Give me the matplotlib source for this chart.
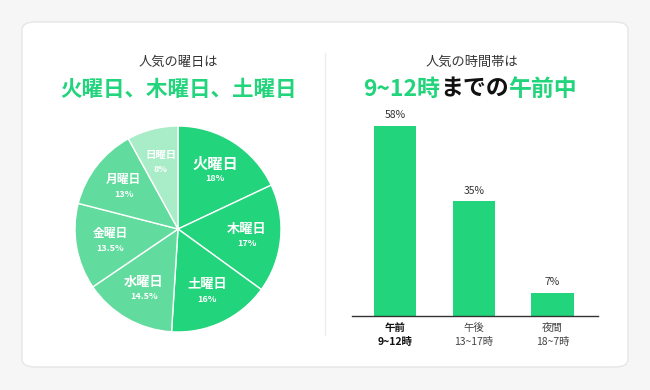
import matplotlib
matplotlib.use("Agg")
import matplotlib.pyplot as plt
from matplotlib.patches import FancyBboxPatch
import numpy as np

plt.rcParams['font.family'] = ['Noto Sans CJK JP', 'DejaVu Sans']

# data
days = ['火曜日', '木曜日', '土曜日', '水曜日', '金曜日', '月曜日', '日曜日']
day_share = [18, 17, 16, 14.5, 13.5, 13, 8]
day_pct_labels = ['18%', '17%', '16%', '14.5%', '13.5%', '13%', '8%']
times = ['午前\n9~12時', '午後\n13~17時', '夜間\n18~7時']
time_share = [58, 35, 7]

GREEN = '#22d47b'
MID = '#62db9e'
LIGHT = '#a9ecc8'
day_colors = [GREEN, GREEN, GREEN, MID, MID, MID, LIGHT]
name_sizes = [11, 9.5, 9.5, 9.5, 8.5, 8.5, 7.5]

W, H = 650, 390
fig = plt.figure(figsize=(6.5, 3.9), dpi=100)
fig.patch.set_facecolor('#f6f6f6')


def px_box(x0, y0, x1, y1):
    # pixel box (top-left origin) -> figure fraction rect
    return [x0 / W, 1 - y1 / H, (x1 - x0) / W, (y1 - y0) / H]


# card (behind the axes)
card = FancyBboxPatch((22 / W, 1 - 367 / H), (628 - 22) / W, (367 - 22) / H,
                      boxstyle="round,pad=0,rounding_size=0.02",
                      transform=fig.transFigure, facecolor='white',
                      edgecolor='#e6e6e6', linewidth=1, zorder=-5)
fig.patches.append(card)
fig.add_artist(plt.Line2D([325 / W, 325 / W], [1 - 53 / H, 1 - 335 / H],
                          transform=fig.transFigure, color='#eeeeee', lw=1,
                          zorder=-4))

# left titles
fig.text(178 / W, 1 - 62 / H, '人気の曜日は', ha='center', va='center',
         fontsize=9.5, color='#333333')
fig.text(178 / W, 1 - 89 / H, '火曜日、木曜日、土曜日', ha='center', va='center',
         fontsize=15.5, fontweight='bold', color=GREEN)

# pie
cx, cy, r = 178, 229, 103
ax = fig.add_axes(px_box(cx - r, cy - r, cx + r, cy + r))
wedges, _ = ax.pie(day_share, colors=day_colors, startangle=90, counterclock=False,
                   wedgeprops=dict(edgecolor='white', linewidth=1))
ax.set_xlim(-1, 1)
ax.set_ylim(-1, 1)
ax.set_aspect('equal')
ax.axis('off')
for w, name, pct, fs in zip(wedges, days, day_pct_labels, name_sizes):
    ang = np.deg2rad((w.theta1 + w.theta2) / 2)
    x, y = 0.67 * np.cos(ang), 0.67 * np.sin(ang)
    ax.annotate(name, (x, y), xytext=(0, 5), textcoords='offset points',
                ha='center', va='center', fontsize=fs, fontweight='bold',
                color='white')
    ax.annotate(pct, (x, y), xytext=(0, -5.5), textcoords='offset points',
                ha='center', va='center', fontsize=6.5, fontweight='bold',
                color='white')

# right titles
fig.text(472 / W, 1 - 62 / H, '人気の時間帯は', ha='center', va='center',
         fontsize=9.5, color='#333333')
parts = [('9~12時', GREEN), ('までの', '#111111'), ('午前中', GREEN)]
renderer = fig.canvas.get_renderer()
pieces = []
for s, c in parts:
    t = fig.text(0, 1 - 89 / H, s, ha='left', va='center', fontsize=16.5,
                 fontweight='bold', color=c)
    pieces.append(t)
widths = [t.get_window_extent(renderer).width for t in pieces]
x = 470 - sum(widths) / 2
for t, wd in zip(pieces, widths):
    t.set_x(x / W)
    x += wd

# bars
base, top = 316, 110
bx = fig.add_axes(px_box(352, top, 598, base))
pos = np.arange(len(times))
bars = bx.bar(pos, time_share, width=0.54, color=GREEN)
bx.set_xlim(-0.55, 2.58)
bx.set_ylim(0, (base - top) / 3.28)
for b, v in zip(bars, time_share):
    bx.annotate(f'{v}%', (b.get_x() + b.get_width() / 2, v), xytext=(0, 4),
                textcoords='offset points', ha='center', va='bottom',
                fontsize=7.5, color='#333333')
for s in ['top', 'right', 'left']:
    bx.spines[s].set_visible(False)
bx.spines['bottom'].set_color('#333333')
bx.spines['bottom'].set_linewidth(1)
bx.set_yticks([])
bx.set_xticks(pos)
bx.set_xticklabels(times, fontsize=7.5, color='#444444', linespacing=1.5)
bx.tick_params(axis='x', length=0, pad=5)
lbl = bx.get_xticklabels()
lbl[0].set_fontweight('bold')
lbl[0].set_color('#111111')
bx.patch.set_alpha(0)

fig.savefig('out.png', dpi=100, facecolor=fig.get_facecolor())
